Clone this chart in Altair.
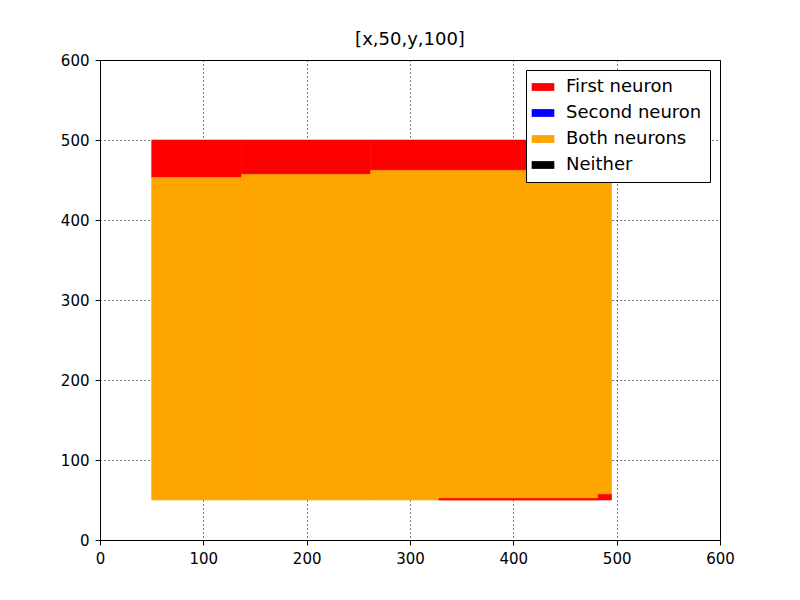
import altair as alt
import pandas as pd

cats = ["First neuron", "Second neuron", "Both neurons", "Neither"]
colors = ["#ff0000", "#0000ff", "#ffa500", "#000000"]

# region rectangles (later rows drawn on top)
x1 = [50, 137, 262, 50, 137, 262, 482, 328, 482]
x2 = [137, 262, 495, 137, 262, 482, 495, 482, 495]
y1 = [453, 457, 462, 50, 50, 50, 57, 50, 50]
y2 = [500, 500, 500, 453, 457, 462, 462, 52, 57]
cls = ["First neuron", "First neuron", "First neuron", "Both neurons", "Both neurons",
       "Both neurons", "Both neurons", "First neuron", "First neuron"]
order = list(range(len(x1)))

df = pd.DataFrame({"x": x1, "x2": x2, "y": y1, "y2": y2, "c": cls, "o": order})

ax = dict(grid=True, gridColor="black", gridDash=[1, 3], gridOpacity=1,
          values=[0, 100, 200, 300, 400, 500, 600], labelOverlap=False, labelFlush=False,
          labelFontSize=15, labelColor="black", tickColor="black",
          domain=False, title=None, labelFont="DejaVu Sans", labelPadding=6)

chart = alt.Chart(df).mark_rect(strokeWidth=0.6).encode(
    x=alt.X("x:Q", scale=alt.Scale(domain=[0, 600], nice=False), axis=alt.Axis(**ax)),
    x2="x2",
    y=alt.Y("y:Q", scale=alt.Scale(domain=[0, 600], nice=False), axis=alt.Axis(**ax)),
    y2="y2",
    order="o:Q",
    stroke=alt.Stroke("c:N", scale=alt.Scale(domain=cats, range=colors), legend=None),
    color=alt.Color("c:N", scale=alt.Scale(domain=cats, range=colors),
                    legend=alt.Legend(title=None, orient="top-right",
                                      symbolType="M-1.6,-0.55H1.6V0.55H-1.6Z",
                                      symbolSize=200, labelFontSize=18, labelFont="DejaVu Sans",
                                      strokeColor="black", fillColor="white", padding=8,
                                      rowPadding=8, offset=10, symbolStrokeWidth=0,
                                      labelOffset=14, labelColor="black")),
).properties(
    width=620, height=480,
    title=alt.TitleParams("[x,50,y,100]", fontSize=18, fontWeight="normal", font="DejaVu Sans", offset=4),
    autosize=alt.AutoSizeParams(type="none"),
    padding={"left": 92, "top": 52, "right": 72, "bottom": 52},
).configure_view(stroke="black", strokeWidth=1)

chart.save("out.html", embed_options={"renderer": "svg", "actions": False})
